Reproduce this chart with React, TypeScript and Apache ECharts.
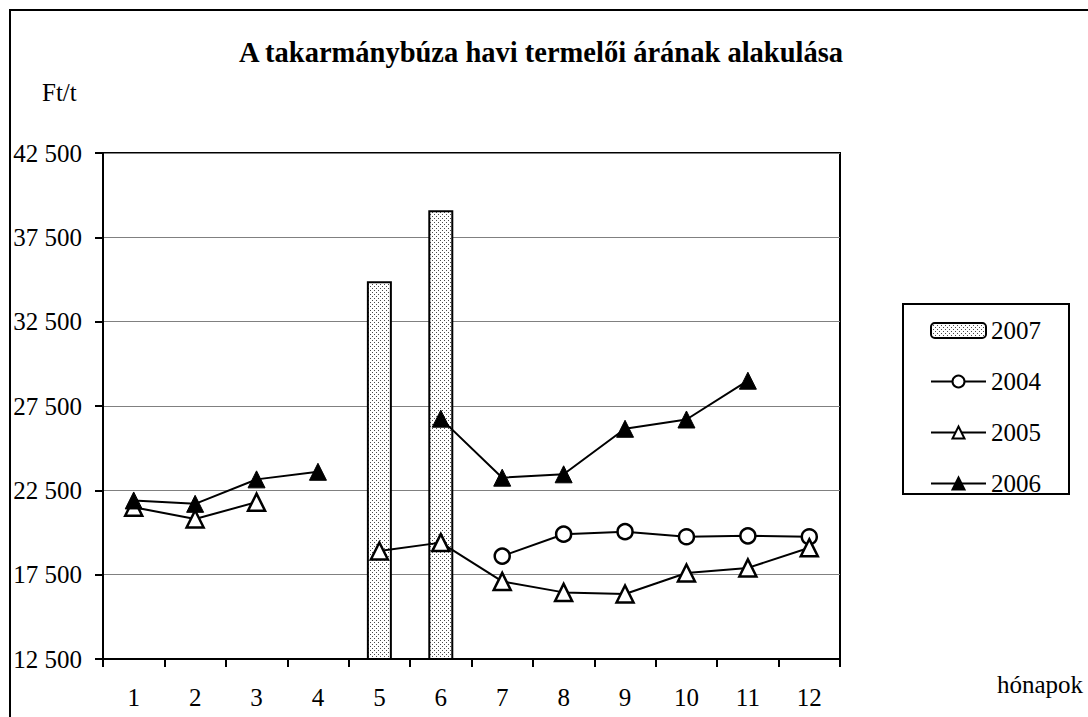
import React, { useEffect, useRef } from "react";
import * as echarts from "echarts";

const months = ["1", "2", "3", "4", "5", "6", "7", "8", "9", "10", "11", "12"];
const s2007: (number | null)[] = [null, null, null, null, 34900, 39100, null, null, null, null, null, null];
const s2004: (number | null)[] = [null, null, null, null, null, null, 18600, 19900, 20050, 19750, 19800, 19750];
const s2005: (number | null)[] = [21500, 20800, 21800, null, 18900, 19400, 17100, 16450, 16350, 17600, 17900, 19100];
const s2006: (number | null)[] = [21900, 21700, 23150, 23600, null, 26750, 23250, 23450, 26150, 26700, 29000, null];

const TITLE = "A takarmánybúza havi termelői árának alakulása";
const FONT = "Liberation Serif";

function makePattern(): HTMLCanvasElement {
  const c = document.createElement("canvas");
  c.width = 4;
  c.height = 4;
  const ctx = c.getContext("2d")!;
  ctx.fillStyle = "#ffffff";
  ctx.fillRect(0, 0, 4, 4);
  ctx.fillStyle = "#4a4a4a";
  ctx.fillRect(0, 0, 1, 1);
  ctx.fillRect(2, 2, 1, 1);
  return c;
}

export default function App() {
  const ref = useRef<HTMLDivElement>(null);
  useEffect(() => {
    if (!ref.current) return;
    const chart = echarts.init(ref.current, null, { renderer: "svg" });
    const pattern = { image: makePattern(), repeat: "repeat" } as any;
    const lineCommon = {
      type: "line" as const,
      connectNulls: false,
      lineStyle: { color: "#000", width: 2 },
      z: 3,
    };
    chart.setOption({
      animation: false,
      backgroundColor: "#fff",
      textStyle: { fontFamily: FONT, color: "#000" },
      graphic: [
        {
          type: "rect",
          shape: { x: 10, y: 10, width: 1100, height: 760 },
          style: { fill: "none", stroke: "#000", lineWidth: 2 },
          silent: true,
        },
        {
          type: "text",
          x: 541,
          y: 52,
          style: {
            text: TITLE,
            fontFamily: FONT,
            fontSize: 28.5,
            fontWeight: "bold",
            fill: "#000",
            align: "center",
            verticalAlign: "middle",
          },
        },
        {
          type: "text",
          x: 42,
          y: 92,
          style: { text: "Ft/t", fontFamily: FONT, fontSize: 25, fill: "#000", align: "left", verticalAlign: "middle" },
        },
        {
          type: "text",
          x: 997,
          y: 684,
          style: { text: "hónapok", fontFamily: FONT, fontSize: 25, fill: "#000", align: "left", verticalAlign: "middle" },
        },
        {
          type: "rect",
          shape: { x: 903, y: 304, width: 166, height: 190 },
          style: { fill: "none", stroke: "#000", lineWidth: 2 },
          silent: true,
        },
      ],
      legend: {
        orient: "vertical",
        left: 930,
        top: 318,
        itemWidth: 55,
        itemHeight: 15,
        itemGap: 26,
        padding: 0,
        textStyle: { fontFamily: FONT, fontSize: 25, color: "#000" },
        data: ["2007", "2004", "2005", "2006"],
      },
      grid: { left: 103, right: 248, top: 153, bottom: 58, show: true, borderColor: "#000", borderWidth: 2 },
      xAxis: {
        type: "category",
        data: months,
        boundaryGap: true,
        axisLine: { lineStyle: { color: "#000", width: 2 } },
        axisTick: { show: true, length: 8, lineStyle: { color: "#000", width: 2 } },
        axisLabel: { color: "#000", fontSize: 25, fontFamily: FONT, margin: 26 },
        splitLine: { show: false },
      },
      yAxis: {
        type: "value",
        min: 12500,
        max: 42500,
        interval: 5000,
        axisLine: { show: true, lineStyle: { color: "#000", width: 2 } },
        axisTick: { show: true, length: 8, lineStyle: { color: "#000", width: 2 } },
        axisLabel: {
          color: "#000",
          fontSize: 25,
          fontFamily: FONT,
          margin: 21,
          formatter: (v: number) => {
            const s = String(Math.round(v));
            return s.replace(/\B(?=(\d{3})+(?!\d))/g, " ");
          },
        },
        splitLine: { show: true, lineStyle: { color: "#808080", width: 1 } },
      },
      series: [
        {
          name: "2007",
          type: "bar",
          data: s2007,
          barWidth: 25,
          itemStyle: { color: pattern, borderColor: "#000", borderWidth: 2 },
          z: 2,
        },
        {
          ...lineCommon,
          name: "2004",
          data: s2004,
          symbol: "circle",
          symbolSize: 15,
          itemStyle: { color: "#fff", borderColor: "#000", borderWidth: 2.5 },
        },
        {
          ...lineCommon,
          name: "2005",
          data: s2005,
          symbol: "triangle",
          symbolSize: 17,
          itemStyle: { color: "#fff", borderColor: "#000", borderWidth: 2.5 },
        },
        {
          ...lineCommon,
          name: "2006",
          data: s2006,
          symbol: "triangle",
          symbolSize: 17,
          itemStyle: { color: "#000", borderColor: "#000", borderWidth: 1 },
        },
      ],
    });
    return () => chart.dispose();
  }, []);
  return (
    <div
      ref={ref}
      style={{ position: "fixed", left: 0, top: 0, width: 1088, height: 717, background: "#fff" }}
    />
  );
}
